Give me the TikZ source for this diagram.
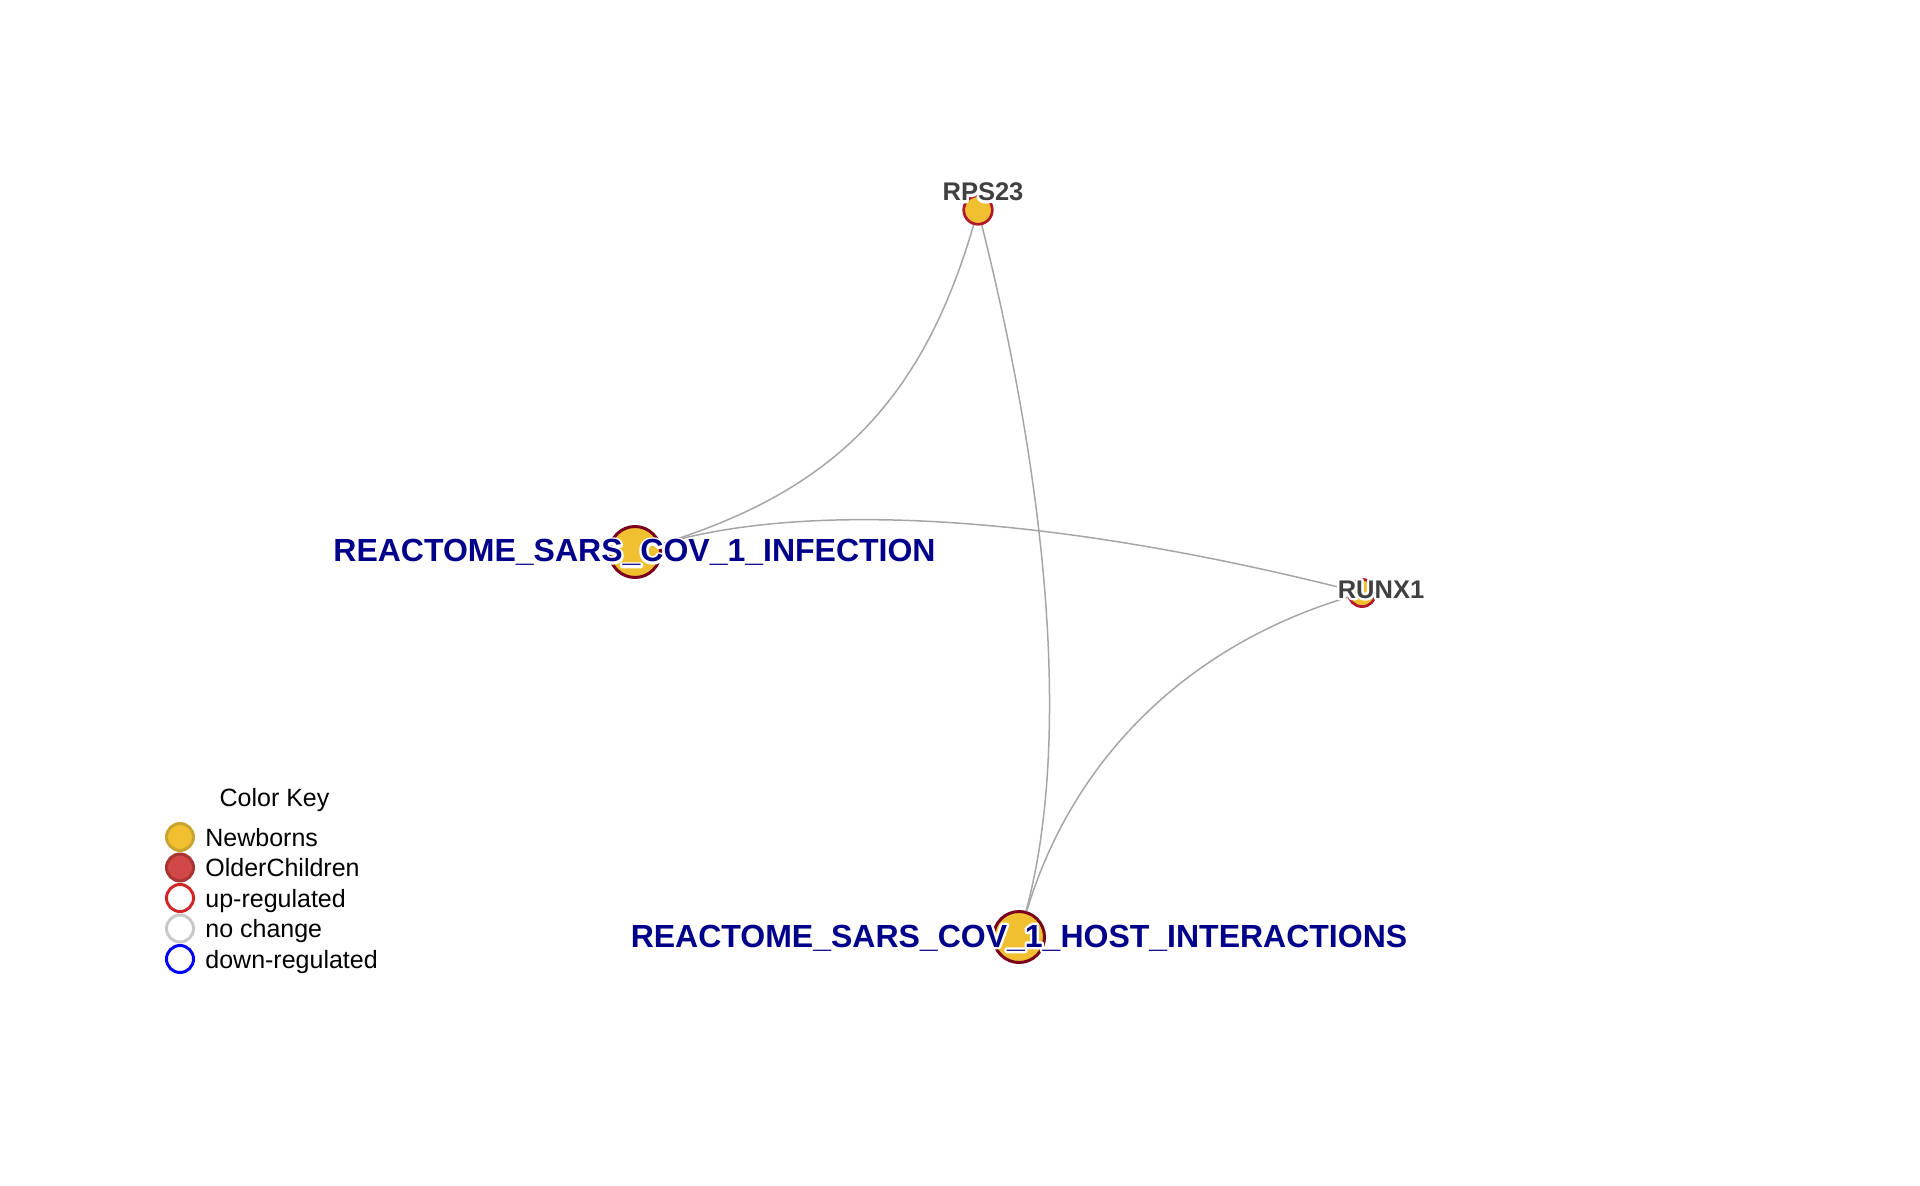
\documentclass[tikz,border=0pt]{standalone}
\usepackage{fontspec}
\setmainfont{Liberation Sans}
\usetikzlibrary{positioning}

\definecolor{nodeyellow}{RGB}{240,192,48}
\definecolor{generim}{RGB}{178,24,43}
\definecolor{pathrim}{RGB}{122,0,30}
\definecolor{edgegray}{RGB}{166,166,166}
\definecolor{labelgray}{RGB}{64,64,64}
\definecolor{pathblue}{RGB}{0,0,139}
\definecolor{newbornrim}{RGB}{200,164,48}
\definecolor{olderfill}{RGB}{210,72,72}
\definecolor{olderrim}{RGB}{168,52,52}
\definecolor{uprim}{RGB}{210,38,38}
\definecolor{nochangerim}{RGB}{200,200,200}

\tikzset{
  genenode/.style={circle, fill=nodeyellow, draw=generim, line width=1.35pt, minimum size=14.3pt, inner sep=0pt},
  pathnode/.style={circle, fill=nodeyellow, draw=pathrim, line width=1.5pt, minimum size=25.5pt, inner sep=0pt},
  edgeline/.style={draw=edgegray, line width=0.75pt},
  genelabel/.style={anchor=base, inner sep=0pt, text=labelgray, font=\fontsize{12.75}{15}\selectfont\bfseries},
  pathlabel/.style={anchor=base, inner sep=0pt, text=pathblue, font=\fontsize{16}{19}\selectfont\bfseries},
  keydot/.style={circle, line width=1.5pt, minimum size=13.5pt, inner sep=0pt},
  keytext/.style={anchor=base west, inner sep=0pt, font=\fontsize{12.5}{15}\selectfont}
}
% white outline under a label (stroked glyphs), then the label itself
\newcommand\halolabel[4]{%
  \node[#1, text=white] at (#3) {\special{pdf:code 1 Tr 2.4 w 1 j 1 1 1 RG}#4\special{pdf:code 0 Tr}};
  \node[#1] (#2) at (#3) {#4};}

\begin{document}
\begin{tikzpicture}[x=0.5pt, y=-0.5pt]
\useasboundingbox (0,0) rectangle (1920,1186);
% network nodes
\node[genenode] (rps23) at (978,210) {};
\node[genenode, minimum size=13.6pt] (runx1) at (1362,593) {};
\node[pathnode] (infect) at (635,552) {};
\node[pathnode] (host) at (1019,937) {};
% curved edges
\draw[edgeline] (rps23) .. controls (921,405) and (830,492) .. (infect);
\draw[edgeline] (infect) .. controls (806,501) and (1048,514) .. (runx1);
\draw[edgeline] (rps23) .. controls (1054,514) and (1068,756) .. (host);
\draw[edgeline] (runx1) .. controls (1186,646) and (1072,760) .. (host);
% labels with white halo
\halolabel{genelabel}{rps23-lbl}{983,201}{RPS23}
\halolabel{genelabel}{runx1-lbl}{1381,598}{RUNX1}
\halolabel{pathlabel}{infect-lbl}{634.5,562}{REACTOME\_SARS\_COV\_1\_INFECTION}
\halolabel{pathlabel}{host-lbl}{1019,947}{REACTOME\_SARS\_COV\_1\_HOST\_INTERACTIONS}
% colour key
\node[anchor=base, inner sep=0pt, font=\fontsize{12.5}{15}\selectfont] (key-title) at (274.5,806) {Color Key};
\node[keydot, fill=nodeyellow, draw=newbornrim] (key-nb) at (180,837) {};
\node[keydot, fill=olderfill, draw=olderrim] (key-oc) at (180,867.5) {};
\node[keydot, fill=white, draw=uprim] (key-up) at (180,898) {};
\node[keydot, fill=white, draw=nochangerim] (key-nc) at (180,928.5) {};
\node[keydot, fill=white, draw=blue] (key-dn) at (180,959) {};
\node[keytext] (key-nb-txt) at (205,846) {Newborns};
\node[keytext] (key-oc-txt) at (205,876.5) {OlderChildren};
\node[keytext] (key-up-txt) at (205,907) {up-regulated};
\node[keytext] (key-nc-txt) at (205,937.5) {no change};
\node[keytext] (key-dn-txt) at (205,968) {down-regulated};
\end{tikzpicture}
\end{document}
